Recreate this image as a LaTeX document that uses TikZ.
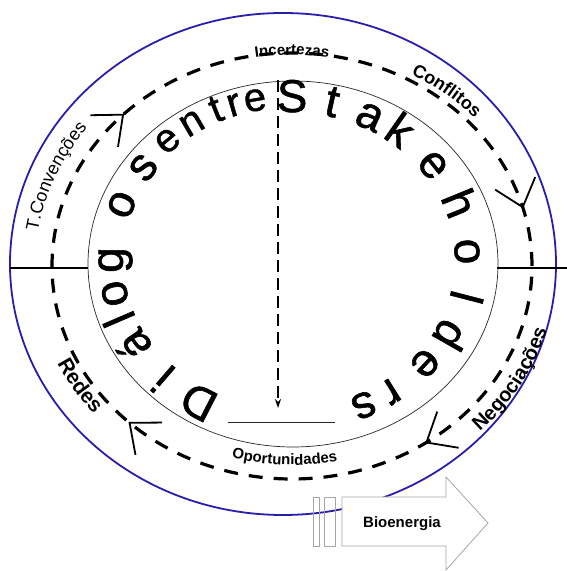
\documentclass[tikz,border=0pt]{standalone}
\usepackage{fontspec}
\setmainfont{Liberation Sans}
\newfontfamily\ringfont{Liberation Sans}[FakeBold=1.2]
\usetikzlibrary{arrows.meta,decorations.markings,decorations.text}
\definecolor{rimblue}{RGB}{40,30,170}
\definecolor{shaftgray}{RGB}{165,165,165}
\tikzset{
    rim/.style={draw=rimblue, line width=1.8pt},
    ring/.style={draw=black!85, line width=0.7pt},
    dashring/.style={
        draw,
        line width=3.2pt,
        dash pattern=on 14pt off 11pt
    },
    cyclebarb/.tip={Straight Barb[length=25pt, width=42pt, line width=1.8pt]},
    axis/.style={draw, line width=1.2pt},
    drop/.style={
        draw,
        line width=1.3pt,
        dash pattern=on 12pt off 6pt,
        -{Stealth[length=9pt, width=6pt]}
    },
    bigletter/.style={
        anchor=base,
        inner sep=0pt,
        font=\ringfont\fontsize{46}{46}\selectfont
    },
    midletter/.style={bigletter, font=\ringfont\fontsize{40}{40}\selectfont},
    shaft/.style={draw=shaftgray, line width=0.8pt}
}
\newcommand{\lab}[1]{\fontsize{#1}{#1}\selectfont}

\begin{document}
\begin{tikzpicture}[x=1pt, y=1pt]
    \useasboundingbox (0,0) rectangle (567,571);
    \coordinate (rimc) at (283,307);
    \coordinate (ringc) at (293,307);
    \coordinate (loopc) at (292,305);
    \coordinate (wordc) at (289,311);

    \draw[rim] (rimc) ellipse[x radius=273pt, y radius=251pt];
    \draw[ring] (ringc) ellipse[x radius=205pt, y radius=183pt];
    \draw[dashring, postaction={decorate, decoration={markings,
        mark=at position 0.041 with {\arrowreversed{cyclebarb}},
        mark=at position 0.378 with {\arrowreversed{cyclebarb}},
        mark=at position 0.626 with {\arrowreversed{cyclebarb}},
        mark=at position 0.848 with {\arrowreversed{cyclebarb}}}}]
        (loopc) ellipse[x radius=240pt, y radius=213pt];

    % horizontal axis
    \coordinate (axL) at (10,303);
    \coordinate (axLin) at (88,303);
    \coordinate (axRin) at (497,303);
    \coordinate (axR) at (567,303);
    \draw[axis] (axL) -- (axLin);
    \draw[axis] (axRin) -- (axR);

    % labels on the loop
    \path[decorate, decoration={text along path, text align=center,
        text={|\bfseries\lab{15}|Incertezas}}]
        ([shift={(110:238pt and 211pt)}]loopc) arc[start angle=110, end angle=70, x radius=238pt, y radius=211pt];
    \path[decorate, decoration={text along path, text align=center,
        text={|\bfseries\lab{18}|Conflitos}}]
        ([shift={(81:247pt and 219pt)}]loopc) arc[start angle=81, end angle=21, x radius=247pt, y radius=219pt];
    \path[decorate, decoration={text along path, text align=center,
        text={|\lab{18}|T.Convenções}}]
        ([shift={(200:257pt and 228pt)}]loopc) arc[start angle=200, end angle=116, x radius=257pt, y radius=228pt];
    \path[decorate, decoration={text along path, text align=center,
        text={|\bfseries\lab{21}|Redes}}]
        ([shift={(185:259pt and 230pt)}]loopc) arc[start angle=185, end angle=239, x radius=259pt, y radius=230pt];
    \path[decorate, decoration={text along path, text align=center,
        text={|\bfseries\lab{20}|Negociações}}]
        ([shift={(-75:265pt and 235pt)}]loopc) arc[start angle=-75, end angle=17, x radius=265pt, y radius=235pt];
    \path[decorate, decoration={text along path, text align=center,
        text={|\bfseries\lab{15}|Oportunidades}}]
        ([shift={(228:227pt and 199pt)}]loopc) arc[start angle=228, end angle=308, x radius=227pt, y radius=199pt];

    % words round the ring
    \foreach \glyph/\ang in {D/240, i/226, á/211, l/201, o/192, g/180, o/160, s/145,
                             S/89, t/76, a/63, k/52, e/36, h/20, o/3, l/-13, d/-27, e/-40, r/-55, s/-65}{
        \pgfmathsetmacro\tilt{atan2(166*sin(\ang),148*cos(\ang))-90}
        \node[bigletter, rotate=\tilt] (letter\ang) at ([shift={(\ang:166pt and 148pt)}]wordc) {\glyph};
    }
    \foreach \glyph/\ang in {e/133, n/123, t/114, r/108, e/101}{
        \pgfmathsetmacro\tilt{atan2(168*sin(\ang),152*cos(\ang))-90}
        \node[midletter, rotate=\tilt] (letter\ang) at ([shift={(\ang:168pt and 152pt)}]wordc) {\glyph};
    }

    % dropping arrow and floor
    \coordinate (droptop) at (278,491);
    \coordinate (dropend) at (278,163);
    \draw[drop] (droptop) -- (dropend);
    \coordinate (floorL) at (228,149);
    \coordinate (floorR) at (335,149);
    \draw[ring] (floorL) -- (floorR);

    % Bioenergia arrow
    \draw[shaft, fill=white] (342,74) -- (446,74) -- (446,94) -- (488,48) -- (446,1) -- (446,25) -- (342,25) -- cycle;
    \draw[shaft] (313,25) rectangle (319,74);
    \draw[shaft] (324,25) rectangle (335,74);
    \node[font=\bfseries\lab{15}] (bio) at (402,47) {Bioenergia};
\end{tikzpicture}
\end{document}
